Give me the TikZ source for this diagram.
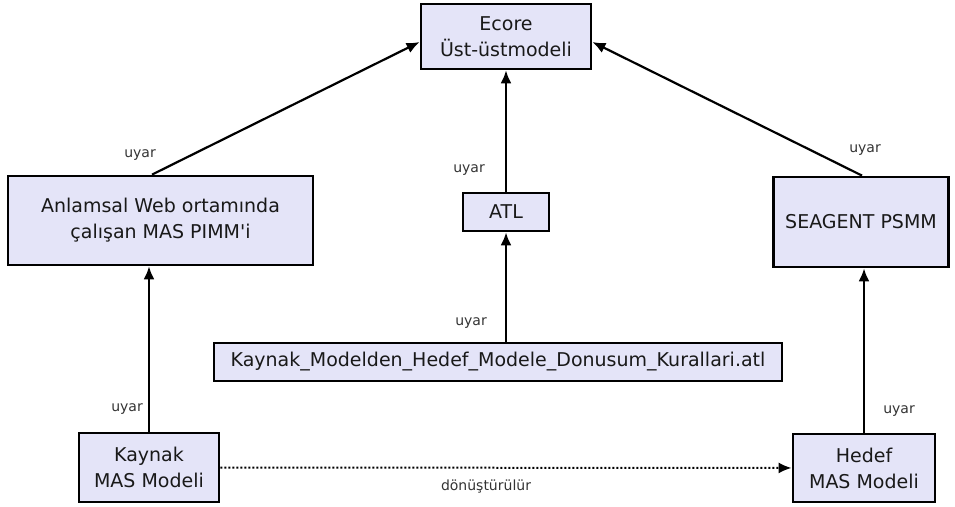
\documentclass[tikz,border=0pt]{standalone}
\usepackage{fontspec}
% plain family without TeX ligature mapping, so ' stays a straight quote
\newfontfamily\diafont{DejaVu Sans}
\usetikzlibrary{arrows.meta}
\definecolor{boxfill}{RGB}{228,228,248}
\tikzset{
  every picture/.style={x=1pt,y=-1pt},
  modelbox/.style={draw=black,line width=2.8pt,fill=boxfill,inner sep=0pt,
    align=center,font=\diafont\fontsize{19}{26}\selectfont,text=black!90},
  conn/.style={line width=2.2pt,-{Latex[length=13pt,width=11pt]}},
  lbl/.style={font=\diafont\fontsize{14}{16}\selectfont,text=black!80,inner sep=0pt}
}
\begin{document}
\begin{tikzpicture}
\useasboundingbox (0,0) rectangle (955,506);
\node[modelbox,minimum width=170pt,minimum height=65pt] (ecore) at (506,36.5) {Ecore\\Üst-üstmodeli};
\node[modelbox,minimum width=305pt,minimum height=89pt] (pimm) at (160.5,220.5) {Anlamsal Web ortamında\\çalışan MAS PIMM'i};
\node[modelbox,minimum width=86pt,minimum height=38pt] (atl) at (506,212) {ATL};
\node[modelbox,minimum width=175pt,minimum height=90pt] (psmm) at (861,222) {SEAGENT PSMM};
\node[modelbox,minimum width=568pt,minimum height=38pt] (rules) at (498,362) {Kaynak\_Modelden\_Hedef\_Modele\_Donusum\_Kurallari.atl};
\node[modelbox,minimum width=140pt,minimum height=69pt] (src) at (149,467.5) {Kaynak\\MAS Modeli};
\node[modelbox,minimum width=142pt,minimum height=68pt] (tgt) at (864,468) {Hedef\\MAS Modeli};

\draw[conn] (pimm.north -| 152,0) -- (ecore.west |- 0,42);
\draw[conn] (psmm.north -| 862,0) -- (ecore.east |- 0,42);
\draw[conn] (atl) -- (ecore);
\draw[conn] (rules.north -| atl.south) -- (atl);
\draw[conn] (src) -- (pimm.south -| src.north);
\draw[conn] (tgt) -- (psmm.south -| tgt.north);
\draw[line width=2pt,dotted,-{Latex[length=13pt,width=11pt]}] (src) -- (tgt);

\node[lbl] (u1) at (140,155) {uyar};
\node[lbl] (u2) at (469,170) {uyar};
\node[lbl] (u3) at (865,150) {uyar};
\node[lbl] (u4) at (471,323) {uyar};
\node[lbl] (u5) at (127,409) {uyar};
\node[lbl] (u6) at (899,411) {uyar};
\node[lbl] (d1) at (486,487) {dönüştürülür};
\end{tikzpicture}
\end{document}
